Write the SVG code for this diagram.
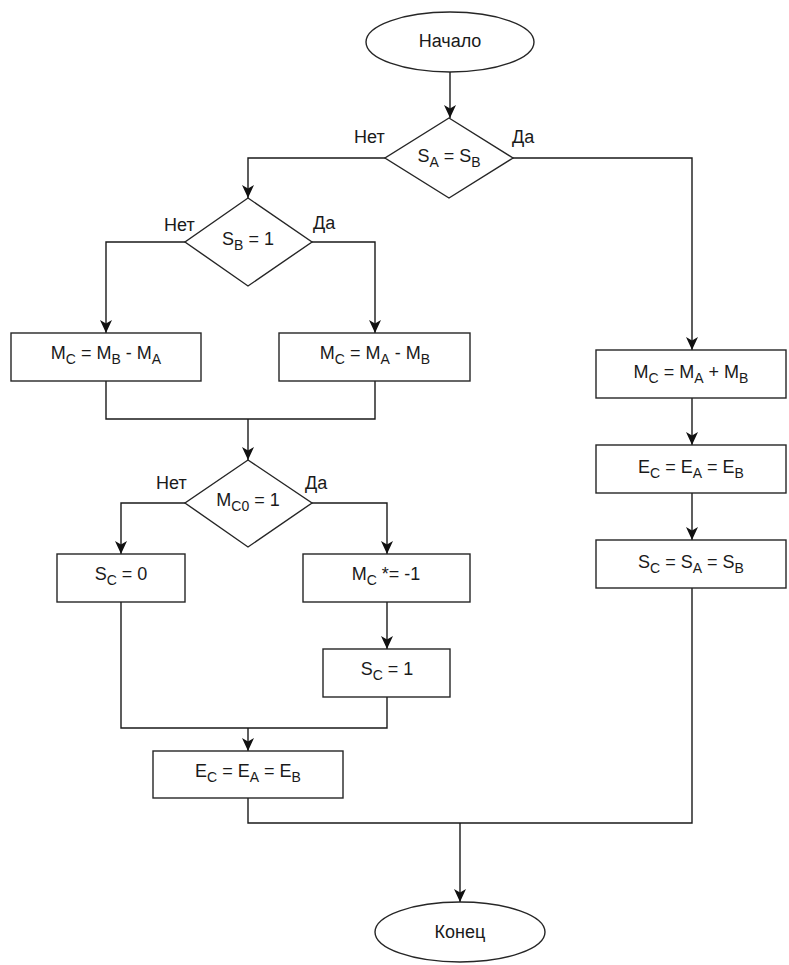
<svg xmlns="http://www.w3.org/2000/svg" width="789" height="965" viewBox="0 0 789 965">
<style>
.shape{fill:#fff;stroke:#262626;stroke-width:1.4}
.edge{fill:none;stroke:#1a1a1a;stroke-width:1.4}
text{font-family:"Liberation Sans",Arial,sans-serif;font-size:18px;fill:#1a1a1a}
.c{text-anchor:middle}
.s{font-size:14px}
</style>
<defs>
<marker id="arr" markerUnits="userSpaceOnUse" markerWidth="13" markerHeight="12" refX="13" refY="6" orient="auto" viewBox="0 0 13 12">
<path d="M0,0 L13,6 L0,12 L3.5,6 Z" fill="#111"/>
</marker>
</defs>
<rect width="789" height="965" fill="#fff"/>
<g id="edges">
<path class="edge" d="M450,72 L450,118" marker-end="url(#arr)"/>
<path class="edge" d="M385,158 L248,158 L248,198" marker-end="url(#arr)"/>
<path class="edge" d="M513,158 L692,158 L692,350" marker-end="url(#arr)"/>
<path class="edge" d="M185,242 L106,242 L106,333" marker-end="url(#arr)"/>
<path class="edge" d="M312,242 L375,242 L375,333" marker-end="url(#arr)"/>
<path class="edge" d="M106,381 L106,419 L375,419 L375,381"/>
<path class="edge" d="M248,419 L248,460" marker-end="url(#arr)"/>
<path class="edge" d="M185,503 L121,503 L121,554" marker-end="url(#arr)"/>
<path class="edge" d="M312,503 L387,503 L387,554" marker-end="url(#arr)"/>
<path class="edge" d="M387,602 L387,649" marker-end="url(#arr)"/>
<path class="edge" d="M121,602 L121,728 L387,728 L387,697"/>
<path class="edge" d="M248,728 L248,751" marker-end="url(#arr)"/>
<path class="edge" d="M248,798 L248,823 L692,823 L692,588"/>
<path class="edge" d="M460,823 L460,902" marker-end="url(#arr)"/>
<path class="edge" d="M692,398 L692,445" marker-end="url(#arr)"/>
<path class="edge" d="M692,493 L692,540" marker-end="url(#arr)"/>
<text x="354" y="143">Нет</text>
<text x="512" y="143">Да</text>
<text x="164" y="231">Нет</text>
<text x="313" y="229">Да</text>
<text x="156" y="489">Нет</text>
<text x="305" y="489">Да</text>
</g>
<g id="start">
<ellipse class="shape" cx="450" cy="42" rx="84" ry="30"/>
<text class="c" x="450" y="47">Начало</text>
</g>
<g id="d1">
<polygon class="shape" points="449,118 513,158 449,198 385,158"/>
<text class="c" x="449" y="162">S<tspan class="s" dy="5">A</tspan><tspan dy="-5"> = S</tspan><tspan class="s" dy="5">B</tspan></text>
</g>
<g id="d2">
<polygon class="shape" points="248,198 312,242 248,286 185,242"/>
<text class="c" x="248" y="245">S<tspan class="s" dy="5">B</tspan><tspan dy="-5"> = 1</tspan></text>
</g>
<g id="b1">
<rect class="shape" x="11" y="333" width="190" height="48"/>
<text class="c" x="106" y="359">M<tspan class="s" dy="5">C</tspan><tspan dy="-5"> = M</tspan><tspan class="s" dy="5">B</tspan><tspan dy="-5"> - M</tspan><tspan class="s" dy="5">A</tspan></text>
</g>
<g id="b2">
<rect class="shape" x="279" y="333" width="191" height="48"/>
<text class="c" x="375" y="359">M<tspan class="s" dy="5">C</tspan><tspan dy="-5"> = M</tspan><tspan class="s" dy="5">A</tspan><tspan dy="-5"> - M</tspan><tspan class="s" dy="5">B</tspan></text>
</g>
<g id="d3">
<polygon class="shape" points="248,460 312,503 248,547 185,503"/>
<text class="c" x="248" y="506">M<tspan class="s" dy="5">C0</tspan><tspan dy="-5"> = 1</tspan></text>
</g>
<g id="b3">
<rect class="shape" x="57" y="554" width="128" height="48"/>
<text class="c" x="121" y="580">S<tspan class="s" dy="5">C</tspan><tspan dy="-5"> = 0</tspan></text>
</g>
<g id="b4">
<rect class="shape" x="303" y="554" width="167" height="48"/>
<text class="c" x="386" y="580">M<tspan class="s" dy="5">C</tspan><tspan dy="-5"> *= -1</tspan></text>
</g>
<g id="b5">
<rect class="shape" x="323" y="649" width="127" height="48"/>
<text class="c" x="387" y="675">S<tspan class="s" dy="5">C</tspan><tspan dy="-5"> = 1</tspan></text>
</g>
<g id="b6">
<rect class="shape" x="153" y="751" width="190" height="47"/>
<text class="c" x="248" y="777">E<tspan class="s" dy="5">C</tspan><tspan dy="-5"> = E</tspan><tspan class="s" dy="5">A</tspan><tspan dy="-5"> = E</tspan><tspan class="s" dy="5">B</tspan></text>
</g>
<g id="r1">
<rect class="shape" x="596" y="350" width="190" height="48"/>
<text class="c" x="691" y="378">M<tspan class="s" dy="5">C</tspan><tspan dy="-5"> = M</tspan><tspan class="s" dy="5">A</tspan><tspan dy="-5"> + M</tspan><tspan class="s" dy="5">B</tspan></text>
</g>
<g id="r2">
<rect class="shape" x="596" y="445" width="190" height="48"/>
<text class="c" x="691" y="473">E<tspan class="s" dy="5">C</tspan><tspan dy="-5"> = E</tspan><tspan class="s" dy="5">A</tspan><tspan dy="-5"> = E</tspan><tspan class="s" dy="5">B</tspan></text>
</g>
<g id="r3">
<rect class="shape" x="596" y="540" width="190" height="48"/>
<text class="c" x="691" y="568">S<tspan class="s" dy="5">C</tspan><tspan dy="-5"> = S</tspan><tspan class="s" dy="5">A</tspan><tspan dy="-5"> = S</tspan><tspan class="s" dy="5">B</tspan></text>
</g>
<g id="end">
<ellipse class="shape" cx="460" cy="932" rx="85" ry="30"/>
<text class="c" x="460" y="938">Конец</text>
</g>
</svg>
